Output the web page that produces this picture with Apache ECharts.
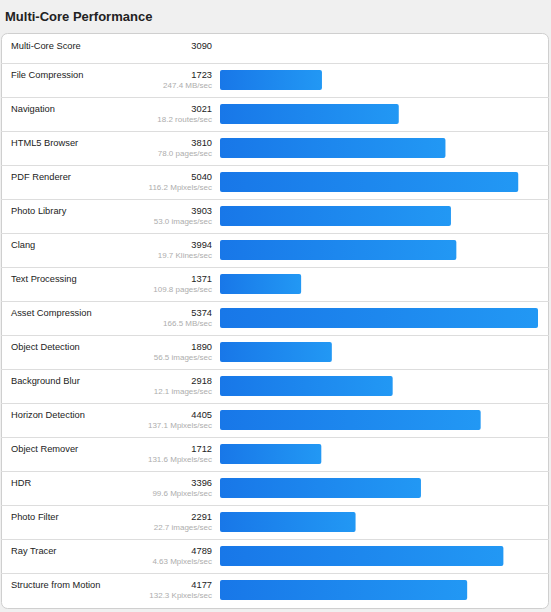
<!DOCTYPE html>
<html>
<head>
<meta charset="utf-8">
<script src="https://cdn.jsdelivr.net/npm/echarts@6/dist/echarts.min.js"></script>
<style>
html,body{margin:0;padding:0;background:#f0f0f0;}
#chart{width:551px;height:612px;}
</style>
</head>
<body>
<div id="chart"></div>
<script>
const names = ['Multi-Core Score','File Compression','Navigation','HTML5 Browser','PDF Renderer','Photo Library','Clang','Text Processing','Asset Compression','Object Detection','Background Blur','Horizon Detection','Object Remover','HDR','Photo Filter','Ray Tracer','Structure from Motion'];
const scores = [3090,1723,3021,3810,5040,3903,3994,1371,5374,1890,2918,4405,1712,3396,2291,4789,4177];
const throughput = ['','247.4 MB/sec','18.2 routes/sec','78.0 pages/sec','116.2 Mpixels/sec','53.0 images/sec','19.7 Klines/sec','109.8 pages/sec','166.5 MB/sec','56.5 images/sec','12.1 images/sec','137.1 Mpixels/sec','131.6 Mpixels/sec','99.6 Mpixels/sec','22.7 images/sec','4.63 Mpixels/sec','132.3 Kpixels/sec'];
// first row (overall score) has no bar
const barValues = scores.map((v, i) => (i === 0 ? null : v));

const FONT = "'Liberation Sans', Arial, sans-serif";
// layout: grid spans the panel; value 0 sits at x=220, 5374 at x=538
const gridL = 1, gridR = 549, zeroPx = 220, refPx = 538, refVal = 5374;
const unitsPerPx = refVal / (refPx - zeroPx);
const xMin = -(zeroPx - gridL) * unitsPerPx;
const xMax = (gridR - zeroPx) * unitsPerPx;

const chart = echarts.init(document.getElementById('chart'), null, {renderer: 'svg'});
chart.setOption({
  backgroundColor: '#f0f0f0',
  animation: false,
  title: {
    text: 'Multi-Core Performance',
    left: 0, top: 5,
    textStyle: {fontFamily: FONT, fontSize: 13, fontWeight: 'bold', color: '#222'}
  },
  graphic: [{
    type: 'rect', z: -10, silent: true,
    shape: {x: 1.5, y: 33.5, width: 547, height: 575, r: 6},
    style: {fill: '#ffffff', stroke: '#cfcfcf', lineWidth: 1}
  }],
  grid: {left: gridL, right: 551 - gridR, top: 29, bottom: 612 - 607},
  xAxis: {
    type: 'value', min: xMin, max: xMax,
    show: false
  },
  yAxis: {
    type: 'category', inverse: true, data: names,
    axisLine: {show: false}, axisTick: {show: false},
    splitLine: {show: true, showMinLine: false, showMaxLine: false, lineStyle: {color: '#dddddd', width: 1}},
    axisLabel: {
      inside: true, margin: 10, align: 'left', verticalAlign: 'middle',
      formatter: (val, idx) => {
        const t = throughput[idx];
        let s = '{n|' + val + '}{s|' + scores[idx] + '}';
        if (t) s += '\n{u|' + t + '}';
        return s;
      },
      rich: {
        n: {width: 150, align: 'left', fontFamily: FONT, fontSize: 9.3, color: '#222', lineHeight: 11},
        s: {width: 51, align: 'right', fontFamily: FONT, fontSize: 9.3, color: '#222', lineHeight: 11},
        u: {width: 201, align: 'right', fontFamily: FONT, fontSize: 8, color: '#adadad', lineHeight: 11}
      }
    }
  },
  series: [{
    type: 'bar', data: barValues, barWidth: 20, silent: true,
    itemStyle: {
      borderRadius: 2,
      color: new echarts.graphic.LinearGradient(0, 0, 1, 0, [
        {offset: 0, color: '#1877e8'},
        {offset: 1, color: '#2298f4'}
      ])
    }
  }]
});
</script>
</body>
</html>
